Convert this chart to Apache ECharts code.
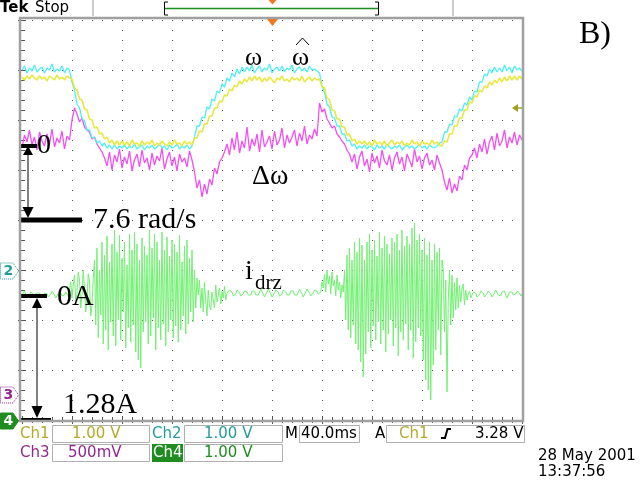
<!DOCTYPE html>
<html><head><meta charset="utf-8">
<script src="https://cdn.jsdelivr.net/npm/echarts/dist/echarts.min.js"></script>
<style>html,body{margin:0;padding:0;background:#fff}#c{width:640px;height:480px}</style>
</head><body><div id="c"></div>
<script>
// Time base: 40 ms/div, 10 divisions (0..400 ms). Vertical: 50 units/div (0 = bottom of screen, 400 = top).
const STEP_CH1_MS = 2;
const STEP_CH2_MS = 2;
const STEP_CH3_MS = 2;
const STEP_CH4_MS = 1;

// Ch1 (yellow) - estimated speed
const ch1 = [343,340,344,341,345,342,340,344,341,343,339,344,342,340,345,341,343,340,344,342,
  341,332,330,321,320,311,310,301,300,292,293,286,287,281,283,277,280,275,279,275,
  279,275,278,274,280,276,277,274,279,275,278,276,280,274,277,275,279,276,274,278,275,280,276,277,274,279,276,278,275,
  282,282,289,288,296,296,304,304,312,312,319,318,325,324,331,329,335,333,339,336,341,338,343,339,344,340,343,
  338,342,339,343,340,337,342,340,344,339,341,338,343,340,342,339,344,338,341,343,339,342,340,
  341,333,332,322,320,310,309,301,301,293,293,285,286,279,281,276,279,
  276,279,275,278,274,280,276,278,275,279,274,277,280,275,278,276,279,274,277,275,280,276,278,274,279,276,277,275,280,276,278,275,
  274,279,278,286,286,294,294,302,302,310,310,318,317,324,323,330,328,334,332,338,335,340,337,342,338,343,339,344,340,344,340,344,341];

// Ch2 (cyan) - measured speed
const ch2 = [350,354,347,352,349,355,348,351,353,347,352,350,356,348,351,349,354,347,352,
  350,338,330,316,312,301,299,290,290,282,283,277,279,274,277,272,275,271,275,271,274,
  272,275,271,274,272,276,271,273,275,270,274,272,275,271,273,276,272,274,270,275,272,273,276,271,274,272,275,271,274,
  283,294,294,303,302,313,311,321,319,329,327,336,333,342,339,347,343,351,346,353,
  348,353,349,355,347,351,354,348,352,350,356,347,351,353,349,354,348,352,350,355,347,351,353,349,352,348,354,350,351,349,
  347,334,328,316,313,303,302,294,294,286,286,279,280,274,276,271,274,
  272,275,271,274,273,270,275,272,274,271,276,273,271,274,272,275,270,273,275,272,274,271,273,276,272,274,271,275,273,272,274,277,
  278,288,288,296,295,304,303,311,309,317,315,323,320,329,328,338,338,346,344,351,347,353,348,
  352,348,355,349,353,347,354,350,352,349];

// Ch3 (magenta) - speed error
const ch3 = [272,285,278,290,275,283,270,288,279,274,286,276,291,273,282,277,289,271,284,280,
  300,312,306,298,302,293,290,288,281,283,276,272,268,
  262,254,268,250,265,258,271,252,263,256,269,249,260,266,253,270,257,262,250,267,255,264,259,272,251,261,268,254,263,249,266,258,262,253,269,260,
  248,232,240,223,236,226,241,235,252,246,258,262,
  268,276,265,282,270,288,267,279,272,293,269,281,274,286,268,290,273,278,284,271,289,275,280,292,272,285,277,283,290,274,287,279,294,276,285,281,291,284,
  317,308,311,301,297,292,294,286,283,279,276,270,266,
  258,266,251,263,269,254,261,248,267,257,264,252,270,259,255,265,250,262,268,256,263,249,266,260,253,271,258,264,251,262,267,255,260,250,265,257,
  250,238,230,242,227,236,229,244,240,255,250,262,
  265,272,262,276,268,281,266,278,284,270,287,274,279,290,272,283,277,288,275,285,280];

// Ch4 (green) - current i_drz
const ch4 = [125,127,129,126,123,122,125,128,129,126,123,124,127,129,127,124,122,124,127,128,126,123,123,126,129,128,125,122,124,127,129,127,124,123,125,128,127,124,
  130,138,122,135,145,118,128,148,140,112,125,150,132,108,120,146,138,104,115,142,
  160,95,172,82,150,105,178,76,165,90,
  184,70,158,98,176,84,190,74,168,100,
  185,80,162,108,178,72,155,92,186,78,
  170,95,188,68,176,60,160,52,182,88,
  174,98,165,76,190,84,172,102,186,70,
  178,92,160,80,188,96,170,74,183,88,
  164,100,180,82,176,94,168,78,185,90,
  158,104,174,86,180,96,162,108,170,98,
  150,112,142,
  125,140,112,132,108,138,118,104,130,115,110,128,120,112,135,118,124,132,116,128,122,134,120,127,
  127,130,131,128,124,123,126,130,131,128,124,123,126,129,131,128,125,123,125,129,
  131,129,125,123,125,128,131,130,126,123,124,128,131,130,126,123,124,127,130,131,
  128,124,123,126,130,131,128,125,123,125,129,131,129,125,123,125,128,131,130,126,
  123,124,128,131,130,127,124,124,127,130,132,129,126,125,128,
  138,132,146,128,150,136,144,126,148,134,140,124,145,130,138,122,135,128,
  150,100,165,90,172,82,160,95,178,76,
  168,70,182,58,175,43,160,66,178,88,
  186,72,170,94,180,80,164,98,188,76,
  172,90,184,68,176,86,166,100,182,74,
  178,92,186,64,170,88,190,80,174,96,
  184,70,176,90,192,62,197,78,180,92,
  186,84,170,60,182,40,165,30,178,20,
  160,55,176,70,168,90,172,65,160,
  150,88,140,28,120,150,95,145,102,138,110,142,112,135,118,132,
  136,115,130,120,126,129,122,124,128,130,127,123,122,125,129,130,127,123,123,126,
  129,130,126,123,124,127,130,129,125,123,124,128,130,129,125,122,124,128,130,128,
  125,123,126,129,130,127,124,126];

const toXY = (arr, step) => arr.map((v, i) => [i * step, v]);

const chart = echarts.init(document.getElementById('c'), null, {renderer: 'canvas'});
const dotLine = {color: '#555', type: [1, 9], width: 1};
const tickStyle = {color: '#555', width: 1};
function axisX(pos, split) {
  return {type: 'value', min: 0, max: 400, interval: 40, position: pos,
    axisLine: {show: false}, axisLabel: {show: false},
    axisTick: {show: true, inside: true, length: 4, lineStyle: tickStyle},
    minorTick: {show: true, splitNumber: 5, length: 3, lineStyle: tickStyle},
    splitLine: {show: split, lineStyle: dotLine}, minorSplitLine: {show: false}};
}
function axisY(pos, split) {
  return {type: 'value', min: 0, max: 400, interval: 50, position: pos,
    axisLine: {show: false}, axisLabel: {show: false},
    axisTick: {show: true, inside: true, length: 4, lineStyle: tickStyle},
    minorTick: {show: true, splitNumber: 5, length: 3, lineStyle: tickStyle},
    splitLine: {show: split, lineStyle: dotLine}, minorSplitLine: {show: false}};
}
const serif = '"Liberation Serif", "DejaVu Serif", serif';
const sans = '"DejaVu Sans", sans-serif';
function T(x, y, text, size, color, font, weight) {
  return {type: 'text', x: x, y: y, z: 100,
    style: {text: text, fill: color || '#000', font: (weight ? weight + ' ' : '') + (size || 15) + 'px ' + (font || sans), textVerticalAlign: 'middle', textAlign: 'left'}};
}
function R(x, y, w, h, fill, stroke) {
  return {type: 'rect', z: 90, shape: {x: x, y: y, width: w, height: h},
    style: {fill: fill || 'none', stroke: stroke || null, lineWidth: 1}};
}
function P(points, fill) { return {type: 'polygon', z: 100, shape: {points: points}, style: {fill: fill || '#000'}}; }
function L(x1, y1, x2, y2, color, w) {
  return {type: 'line', z: 100, shape: {x1: x1, y1: y1, x2: x2, y2: y2}, style: {stroke: color || '#000', lineWidth: w || 1}};
}
function marker(yc, label, color, filled) {
  return [
    {type: 'polygon', z: 100, shape: {points: [[0.5, yc - 8], [13, yc - 8], [18.5, yc], [13, yc + 8], [0.5, yc + 8]]},
      style: {fill: filled ? color : '#fff', stroke: color, lineWidth: 1, lineDash: filled ? null : [1, 1]}},
    T(3.5, yc + 0.5, label, 14, filled ? '#fff' : color, sans, 'bold')
  ];
}

const olive = '#b4aa2c', teal = '#239c9c', purple = '#93278f', dgreen = '#1f8c1f';
const boxStroke = '#b0b0b0';

const graphic = [
  // top bar
  T(0, 8.5, 'Tek', 15, '#000', sans, 'bold'),
  T(35, 8.5, 'Stop', 15),
  L(93, 0, 93, 16, '#999', 1), L(453, 0, 453, 16, '#999', 1),
  {type: 'polyline', z: 100, shape: {points: [[168, 2], [164.5, 2], [164.5, 15], [168, 15]]}, style: {stroke: '#000', lineWidth: 1}},
  {type: 'polyline', z: 100, shape: {points: [[375, 2], [378.5, 2], [378.5, 15], [375, 15]]}, style: {stroke: '#000', lineWidth: 1}},
  L(165, 8.5, 378, 8.5, dgreen, 1.5),
  P([[268.5, 0], [276.5, 0], [272.5, 4.5]], '#f07820'),
  P([[267, 19], [278, 19], [272.5, 26]], '#f07820'),
  // frame
  {type: 'rect', z: 95, shape: {x: 20, y: 18, width: 503, height: 403}, style: {fill: 'none', stroke: '#a0a0a0', lineWidth: 2.5}},
  // right side
  T(579, 35, 'B)', 32, '#000', serif),
  P([[512, 108], [518, 104], [518, 112]], '#a0a020'), L(518, 108, 522, 108, '#a0a020', 1.5),
  // channel ground markers
  ...marker(271, '2', teal, false),
  ...marker(395, '3', purple, false),
  ...marker(421, '4', dgreen, true),
  // speed scale annotation
  R(20, 144, 17, 4, '#000'),
  L(28, 150, 28, 212, '#000', 1),
  P([[28, 146], [23, 155], [33, 155]]),
  P([[28, 218], [22.5, 207], [33.5, 207]]),
  R(20, 217.5, 62, 5, '#000'),
  T(37, 146, '0', 28, '#000', serif),
  T(93, 220, '7.6 rad/s', 30, '#000', serif),
  // current scale annotation
  R(20, 294, 27, 4, '#000'),
  L(37, 302, 37, 410, '#000', 1),
  P([[37, 298], [32, 308], [42, 308]]),
  P([[37, 418], [31.5, 406], [42.5, 406]]),
  R(20, 418, 31, 4, '#000'),
  T(57, 297, '0A', 30, '#000', serif),
  T(63, 405, '1.28A', 30, '#000', serif),
  // trace labels
  T(245, 58, 'ω', 26, '#000', serif),
  T(292, 58, 'ω', 26, '#000', serif),
  {type: 'polyline', z: 100, shape: {points: [[296, 45], [302.5, 38], [309, 45]]}, style: {stroke: '#000', lineWidth: 1}},
  T(252, 177, 'Δω', 28, '#000', serif),
  T(245, 272, 'i', 28, '#000', serif),
  T(255, 283, 'drz', 21, '#000', serif),
  // status rows
  T(20, 434, 'Ch1', 15, olive),
  R(52.5, 425.5, 97, 17, null, boxStroke), T(72, 434, '1.00 V', 15, olive),
  T(152, 434, 'Ch2', 15, teal),
  R(184.5, 425.5, 98, 17, null, boxStroke), T(204, 434, '1.00 V', 15, teal),
  T(285, 434, 'M', 15),
  R(299.5, 425.5, 60, 17, null, boxStroke), T(301, 434, '40.0ms', 15),
  T(375, 434, 'A', 15),
  R(386.5, 425.5, 138, 17, null, boxStroke), T(399, 434, 'Ch1', 15, olive),
  {type: 'polyline', z: 100, shape: {points: [[441, 438], [445, 438], [447.5, 429], [451, 429]]}, style: {stroke: '#000', lineWidth: 2}},
  T(475, 434, '3.28 V', 15),
  T(20, 453, 'Ch3', 15, purple),
  R(52.5, 444.5, 97, 17, null, boxStroke), T(68, 453, '500mV', 15, purple),
  R(152, 444, 31, 18, dgreen, null), T(153, 453, 'Ch4', 15, '#fff'),
  R(184.5, 444.5, 98, 17, null, boxStroke), T(204, 453, '1.00 V', 15, dgreen),
  T(538, 456, '28 May 2001', 15),
  T(538, 472, '13:37:56', 15)
];

const lineSeries = (name, data, color, z, w) => ({
  name: name, type: 'line', data: data, showSymbol: false, symbol: 'none', smooth: false,
  lineStyle: {color: color, width: w}, z: z, animation: false, silent: true
});

chart.setOption({
  animation: false,
  backgroundColor: '#fff',
  grid: {left: 22, top: 20, width: 500, height: 400, show: false},
  xAxis: [axisX('bottom', true), axisX('top', false)],
  yAxis: [axisY('left', true), axisY('right', false)],
  series: [
    lineSeries('Ch4', toXY(ch4, STEP_CH4_MS), '#74f074', 2, 1),
    lineSeries('Ch3', toXY(ch3, STEP_CH3_MS), '#f050f0', 3, 1.3),
    lineSeries('Ch2', toXY(ch2, STEP_CH2_MS), '#50f0f0', 4, 1.3),
    lineSeries('Ch1', toXY(ch1, STEP_CH1_MS), '#e8e840', 5, 1.6)
  ],
  graphic: graphic
});
</script>
</body></html>
